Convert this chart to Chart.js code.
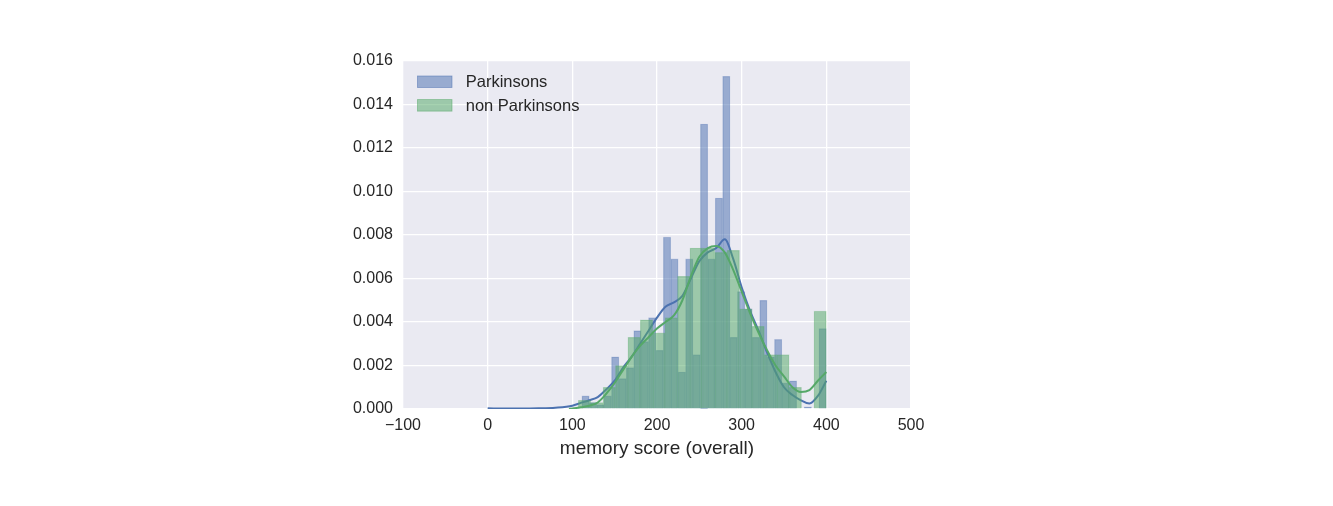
<!DOCTYPE html>
<html><head><meta charset="utf-8">
<script src="https://cdn.jsdelivr.net/npm/chart.js@4.4.0/dist/chart.umd.min.js"></script>
<style>html,body{margin:0;padding:0;background:#fff}#wrap{width:1333px;height:506px;position:relative}</style>
</head><body><div id="wrap"><canvas id="c"></canvas></div>
<script>
const seriesNames = ['Parkinsons', 'non Parkinsons'];
const xAxisTitle = 'memory score (overall)';

// Parkinsons histogram (bin centers, density)
const parkBinCenters = [115.625, 124.375, 133.125, 141.875, 150.625, 159.375, 168.125, 176.875, 185.625, 194.375,
  203.125, 211.875, 220.625, 229.375, 238.125, 246.875, 255.625, 264.375, 273.125, 281.875,
  290.625, 299.375, 308.125, 316.875, 325.625, 334.375, 343.125, 351.875, 360.625, 369.375,
  378.125, 386.875, 395.625];
const parkDensity = [0.0006, 0.0003, 0.0002, 0.0006, 0.0024, 0.0014, 0.0019, 0.0036, 0.0031, 0.0042,
  0.0027, 0.0079, 0.0069, 0.0017, 0.0069, 0.0025, 0.0131, 0.0069, 0.0097, 0.0153,
  0.0033, 0.0054, 0.0046, 0.0033, 0.0050, 0.0024, 0.0032, 0.0012, 0.0013, 0.0000,
  0.0001, 0.0000, 0.0037];

// non Parkinsons histogram (bin centers, density)
const nonBinCenters = [114.325, 128.975, 143.625, 158.275, 172.925, 187.575, 202.225, 216.875, 231.525, 246.175,
  260.825, 275.475, 290.125, 304.775, 319.425, 334.075, 348.725, 363.375, 378.025, 392.675];
const nonDensity = [0.0004, 0.0003, 0.0010, 0.0020, 0.0033, 0.0041, 0.0035, 0.0042, 0.0061, 0.0074,
  0.0074, 0.0072, 0.0073, 0.0046, 0.0038, 0.0025, 0.0025, 0.0010, 0.0000, 0.0045];

// KDE curves
const parkKdeX = [0, 20, 40, 60, 80, 100, 110, 120, 130, 140, 150, 160, 170, 180, 190, 200, 210, 220, 230, 240,
  250, 260, 270, 280, 290, 300, 310, 320, 330, 340, 350, 360, 370, 380, 390, 400];
const parkKdeY = [0.00003, 0.00002, 0.00002, 0.00003, 0.00006, 0.00015, 0.00028, 0.0004, 0.00055, 0.0009,
  0.0013, 0.0019, 0.0024, 0.0030, 0.0036, 0.0042, 0.0047, 0.0049, 0.0052, 0.0060,
  0.0068, 0.0072, 0.0074, 0.0078, 0.0069, 0.0056, 0.0045, 0.0036, 0.0026, 0.0017,
  0.0010, 0.00064, 0.0004, 0.00025, 0.0006, 0.0013];
const nonKdeX = [96, 100, 110, 120, 130, 140, 150, 160, 170, 180, 190, 200, 210, 220, 230, 240, 250, 260, 270,
  280, 290, 300, 310, 320, 330, 340, 350, 360, 370, 380, 390, 400];
const nonKdeY = [0.0, 0.00002, 0.00008, 0.00015, 0.0003, 0.0007, 0.0012, 0.0018, 0.0024, 0.0029, 0.0033, 0.0037,
  0.0040, 0.0043, 0.0050, 0.0061, 0.0070, 0.0074, 0.0075, 0.0072, 0.0064, 0.0054, 0.0044, 0.0035, 0.0027,
  0.0020, 0.0015, 0.0010, 0.00078, 0.00087, 0.0013, 0.0017];

const xMin = -100, xMax = 500, xStep = 100;
const yMin = 0, yMax = 0.016, yStep = 0.002;

const BLUE = '#4C72B0', GREEN = '#55A868';
const BLUE_FILL = 'rgba(76,114,176,0.52)', GREEN_FILL = 'rgba(85,168,104,0.52)';
const FONT = '"Liberation Sans", Arial, sans-serif';
const TEXT = '#262626';

const pts = (xs, ys) => xs.map((x, i) => ({x: x, y: ys[i]}));

const plotBg = {
  id: 'plotBg',
  beforeDraw(chart) {
    const {ctx, chartArea: a} = chart;
    ctx.save();
    ctx.fillStyle = '#EAEAF2';
    ctx.fillRect(a.left, a.top, a.right - a.left, a.bottom - a.top);
    ctx.restore();
  }
};

const insideLegend = {
  id: 'insideLegend',
  afterDatasetsDraw(chart) {
    const {ctx, chartArea: a} = chart;
    const items = chart.data.datasets.filter(d => d.type === 'bar');
    ctx.save();
    items.forEach((d, i) => {
      const bx = a.left + 14.5, by = a.top + 15 + i * 23.6;
      ctx.fillStyle = d.backgroundColor;
      ctx.fillRect(bx, by, 34.5, 11.5);
      ctx.strokeStyle = d.legendEdge;
      ctx.lineWidth = 0.8;
      ctx.strokeRect(bx, by, 34.5, 11.5);
      ctx.fillStyle = TEXT;
      ctx.font = '16.5px ' + FONT;
      ctx.textBaseline = 'middle';
      ctx.textAlign = 'left';
      ctx.fillText(d.label, a.left + 62.7, by + 6.5);
    });
    ctx.restore();
  }
};

new Chart(document.getElementById('c'), {
  type: 'bar',
  data: {
    datasets: [
      {type: 'bar', label: seriesNames[0], data: pts(parkBinCenters, parkDensity), xAxisID: 'x', yAxisID: 'y',
        backgroundColor: BLUE_FILL, borderColor: 'rgba(76,114,176,0.3)', borderWidth: 0.6, legendEdge: 'rgba(76,114,176,0.6)',
        barPercentage: 1, categoryPercentage: 1, grouped: false, order: 4},
      {type: 'line', label: seriesNames[0] + ' KDE', data: pts(parkKdeX, parkKdeY), xAxisID: 'x', yAxisID: 'y',
        borderColor: BLUE, borderWidth: 2, pointRadius: 0, fill: false, cubicInterpolationMode: 'monotone', order: 3},
      {type: 'bar', label: seriesNames[1], data: pts(nonBinCenters, nonDensity), xAxisID: 'x2', yAxisID: 'y',
        backgroundColor: GREEN_FILL, borderColor: 'rgba(85,168,104,0.3)', borderWidth: 0.6, legendEdge: 'rgba(85,168,104,0.6)',
        barPercentage: 1, categoryPercentage: 1, grouped: false, order: 2},
      {type: 'line', label: seriesNames[1] + ' KDE', data: pts(nonKdeX, nonKdeY), xAxisID: 'x', yAxisID: 'y',
        borderColor: GREEN, borderWidth: 2, pointRadius: 0, fill: false, cubicInterpolationMode: 'monotone', order: 1}
    ]
  },
  options: {
    responsive: true,
    maintainAspectRatio: false,
    animation: false,
    layout: {padding: {left: 0, right: 422, top: 61, bottom: 46}},
    plugins: {legend: {display: false}, tooltip: {enabled: false}},
    scales: {
      x: {
        type: 'linear', position: 'bottom', min: xMin, max: xMax, offset: false,
        grid: {color: '#ffffff', lineWidth: 1.3, drawTicks: false, offset: false},
        border: {display: false},
        ticks: {stepSize: xStep, padding: 7, color: TEXT, font: {family: FONT, size: 16},
          maxRotation: 0, autoSkip: false,
          callback: v => (v < 0 ? '\u2212' + Math.abs(v) : String(v))},
        title: {display: true, text: xAxisTitle, color: TEXT, font: {family: FONT, size: 19}, padding: 0},
        afterFit: s => { s.height = 51; }
      },
      x2: {
        type: 'linear', display: false, min: xMin, max: xMax, offset: false, grid: {offset: false}
      },
      y: {
        type: 'linear', min: yMin, max: yMax,
        grid: {color: '#ffffff', lineWidth: 1.3, drawTicks: false},
        border: {display: false},
        ticks: {stepSize: yStep, padding: 10, color: TEXT, font: {family: FONT, size: 16},
          callback: v => v.toFixed(3)},
        afterFit: s => { s.width = 403; }
      }
    }
  },
  plugins: [plotBg, insideLegend]
});
</script>
</body></html>
